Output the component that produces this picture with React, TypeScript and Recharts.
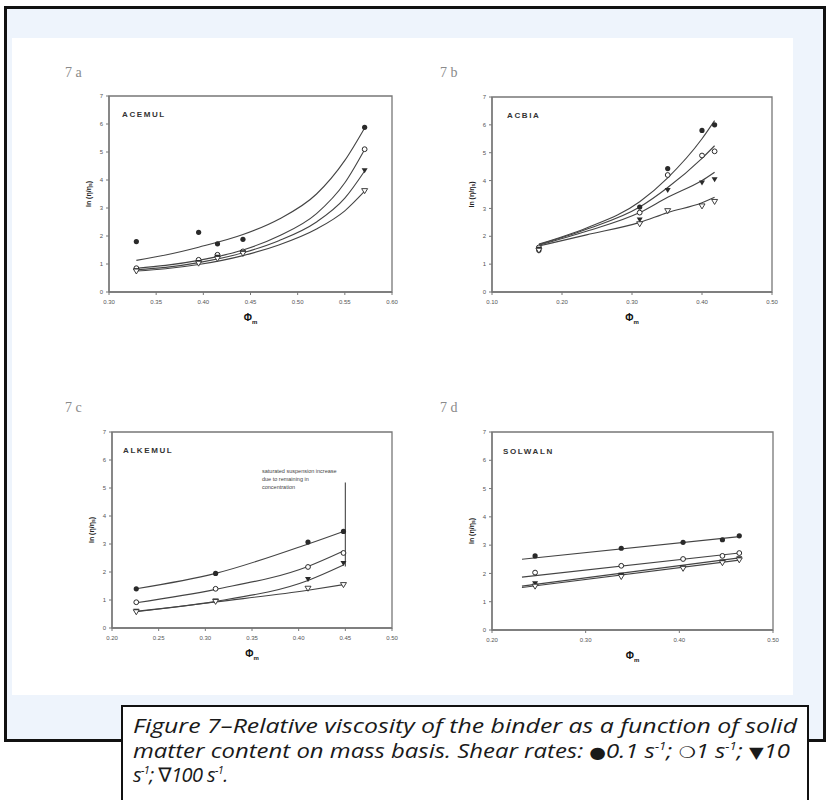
import React from 'react';
import { ComposedChart, Line, Scatter, XAxis, YAxis, ReferenceArea, ReferenceLine, Label } from 'recharts';

// ---------- shared ----------
const Y_TICKS = [0, 1, 2, 3, 4, 5, 6, 7];
const RATE_NAMES = ['0.1 s-1', '1 s-1', '10 s-1', '100 s-1'];

// ---------- 7a ACEMUL ----------
const A_TICKS = [0.3, 0.35, 0.4, 0.45, 0.5, 0.55, 0.6];
const A_X = [0.329, 0.395, 0.415, 0.442, 0.571];
const A_R01 = [1.8, 2.13, 1.72, 1.88, 5.88];
const A_R1 = [0.85, 1.15, 1.33, 1.45, 5.1];
const A_R10 = [0.78, 1.07, 1.26, 1.42, 4.35];
const A_R100 = [0.75, 1.03, 1.2, 1.38, 3.62];
const A_FX = [0.329, 0.36, 0.395, 0.442, 0.48, 0.52, 0.55, 0.571];
const A_F1 = [1.13, 1.32, 1.6, 2.05, 2.6, 3.5, 4.7, 5.86];
const A_F2 = [0.85, 0.95, 1.13, 1.5, 2.0, 2.8, 3.9, 5.09];
const A_F3 = [0.8, 0.88, 1.05, 1.4, 1.83, 2.5, 3.35, 4.32];
const A_F4 = [0.75, 0.83, 0.98, 1.3, 1.68, 2.25, 2.9, 3.6];

// ---------- 7b ACBIA ----------
const B_TICKS = [0.1, 0.2, 0.3, 0.4, 0.5];
const B_X = [0.167, 0.311, 0.351, 0.4, 0.418];
const B_R01 = [1.5, 3.05, 4.43, 5.8, 6.0];
const B_R1 = [1.6, 2.85, 4.2, 4.9, 5.05];
const B_R10 = [1.55, 2.6, 3.66, 3.93, 4.05];
const B_R100 = [1.5, 2.45, 2.92, 3.09, 3.25];
const B_FX = [0.167, 0.235, 0.311, 0.351, 0.4, 0.418];
const B_F1 = [1.72, 2.3, 3.24, 4.1, 5.5, 6.15];
const B_F2 = [1.7, 2.25, 3.05, 3.75, 4.8, 5.25];
const B_F3 = [1.68, 2.18, 2.85, 3.4, 4.0, 4.3];
const B_F4 = [1.65, 2.05, 2.5, 2.85, 3.2, 3.4];

// ---------- 7c ALKEMUL ----------
const C_TICKS = [0.2, 0.25, 0.3, 0.35, 0.4, 0.45, 0.5];
const C_X = [0.226, 0.311, 0.41, 0.448];
const C_R01 = [1.4, 1.95, 3.07, 3.45];
const C_R1 = [0.92, 1.4, 2.18, 2.68];
const C_R10 = [0.62, 0.98, 1.75, 2.32];
const C_R100 = [0.58, 0.95, 1.42, 1.55];
const C_FX = [0.226, 0.311, 0.41, 0.448];
const C_F1 = [1.4, 1.95, 3.0, 3.45];
const C_F2 = [0.9, 1.38, 2.2, 2.75];
const C_F3 = [0.6, 0.95, 1.7, 2.25];
const C_F4 = [0.58, 0.93, 1.35, 1.55];
const C_ASYMPTOTE_X = 0.45;
const C_ASYMPTOTE_Y = [2.2, 5.2];
const C_NOTE = ['saturated suspension increase', 'due to remaining in', 'concentration'];

// ---------- 7d SOLWALN ----------
const D_TICKS = [0.2, 0.3, 0.4, 0.5];
const D_X = [0.246, 0.338, 0.404, 0.446, 0.464];
const D_R01 = [2.62, 2.89, 3.1, 3.19, 3.33];
const D_R1 = [2.03, 2.27, 2.51, 2.62, 2.72];
const D_R10 = [1.65, 1.95, 2.21, 2.42, 2.54];
const D_R100 = [1.55, 1.89, 2.18, 2.38, 2.48];
const D_FX = [0.232, 0.464];
const D_F1 = [2.5, 3.3];
const D_F2 = [1.87, 2.72];
const D_F3 = [1.55, 2.55];
const D_F4 = [1.5, 2.47];

const zip = (xs: number[], ys: number[]) => ys.map((y, i) => ({ x: xs[i], y }));

const INK = '#2a2a2a';
const TICK_FONT = "'Liberation Sans', Arial, sans-serif";

const FilledCircle = (p: any) => <circle cx={p.cx} cy={p.cy} r={2.6} fill={INK} />;
const OpenCircle = (p: any) => <circle cx={p.cx} cy={p.cy} r={2.4} fill="#fff" stroke={INK} strokeWidth={1} />;
const FilledTri = (p: any) => (
  <path d={`M${p.cx - 3},${p.cy - 2} L${p.cx + 3},${p.cy - 2} L${p.cx},${p.cy + 3} Z`} fill={INK} />
);
const OpenTri = (p: any) => (
  <path d={`M${p.cx - 3},${p.cy - 2} L${p.cx + 3},${p.cy - 2} L${p.cx},${p.cy + 3} Z`} fill="#fff" stroke={INK} strokeWidth={0.9} />
);
const SHAPES = [FilledCircle, OpenCircle, FilledTri, OpenTri];

const YLabelContent = (props: any) => {
  const vb = props.viewBox || { x: 0, y: 0, width: 0, height: 0 };
  const x = vb.x + vb.width - 21;
  const y = vb.y + vb.height / 2;
  return (
    <text x={x} y={y} transform={`rotate(-90 ${x} ${y})`} textAnchor="middle" dominantBaseline="central"
      fontSize={7} fontWeight="bold" fill="#222" fontFamily={TICK_FONT}>
      ln (η/η<tspan fontSize={5} dy={2}>s</tspan><tspan dy={-2}>)</tspan>
    </text>
  );
};

const XLabelContent = (props: any) => {
  const vb = props.viewBox || { x: 0, y: 0, width: 0, height: 0 };
  const x = vb.x + vb.width / 2;
  const y = vb.y + 29;
  return (
    <text x={x} y={y} textAnchor="middle" fontSize={10} fontWeight="bold" fill="#111" fontFamily={TICK_FONT}>
      Φ<tspan fontSize={6} dy={3}>m</tspan>
    </text>
  );
};

type PanelProps = {
  left: number; top: number;
  margin: { top: number; right: number; bottom: number; left: number };
  ticks: number[];
  markers: number[][];
  xs: number[];
  fx: number[];
  fits: number[][];
  children?: React.ReactNode;
};

const Panel = ({ left, top, margin, ticks, markers, xs, fx, fits, children }: PanelProps) => {
  const domain: [number, number] = [ticks[0], ticks[ticks.length - 1]];
  return (
    <div style={{ position: 'absolute', left, top }}>
      <ComposedChart width={360} height={280} margin={margin}>
        <XAxis type="number" dataKey="x" domain={domain} ticks={ticks} allowDataOverflow
          tickFormatter={(v: number) => v.toFixed(2)} tickSize={3} tickMargin={5} height={30}
          axisLine={{ stroke: '#777', strokeWidth: 1.3 }} tickLine={{ stroke: '#777' }}
          tick={{ fontSize: 6, fill: '#555', fontFamily: TICK_FONT }} interval={0}>
          <Label content={XLabelContent} />
        </XAxis>
        <YAxis type="number" dataKey="y" domain={[0, 7]} ticks={Y_TICKS} allowDataOverflow width={30}
          tickSize={3} tickMargin={3} axisLine={{ stroke: '#777', strokeWidth: 1.3 }} tickLine={{ stroke: '#777' }}
          tick={{ fontSize: 6, fill: '#555', fontFamily: TICK_FONT }} interval={0}>
          <Label content={YLabelContent} />
        </YAxis>
        <ReferenceArea x1={domain[0]} x2={domain[1]} y1={0} y2={7} fill="none" stroke="#777" strokeWidth={1.3} ifOverflow="visible" />
        {fits.map((f, i) => (
          <Line key={'f' + i} data={zip(fx, f)} dataKey="y" type="monotone" stroke="#444" strokeWidth={1.1}
            dot={false} activeDot={false} isAnimationActive={false} />
        ))}
        {children}
        {markers.map((m, i) => (
          <Scatter key={'m' + i} name={RATE_NAMES[i]} data={zip(xs, m)} dataKey="y" shape={SHAPES[i]} isAnimationActive={false} />
        ))}
      </ComposedChart>
    </div>
  );
};

const panelLabelStyle: React.CSSProperties = {
  position: 'absolute', fontFamily: "'Liberation Serif', serif", fontSize: 14, color: '#8a8a8a', lineHeight: '14px',
};
const innerTitleStyle: React.CSSProperties = {
  position: 'absolute', fontFamily: TICK_FONT, fontSize: 8, fontWeight: 'bold', color: '#333', letterSpacing: 1.6, lineHeight: '8px',
};

export default function App() {
  return (
    <div style={{ position: 'absolute', left: 0, top: 0, width: 829, height: 800, background: '#fff', overflow: 'hidden' }}>
      {/* outer frame */}
      <div style={{ position: 'absolute', left: 4, top: 6, width: 822, height: 736, border: '3px solid #111', background: '#EEF4FC', boxSizing: 'border-box' }} />
      {/* white panel */}
      <div style={{ position: 'absolute', left: 12, top: 38, width: 781, height: 657, background: '#fff' }} />

      <div style={{ ...panelLabelStyle, left: 65, top: 66 }}>7 a</div>
      <div style={{ ...panelLabelStyle, left: 440, top: 66 }}>7 b</div>
      <div style={{ ...panelLabelStyle, left: 65, top: 401 }}>7 c</div>
      <div style={{ ...panelLabelStyle, left: 440, top: 401 }}>7 d</div>

      <Panel left={60} top={60} margin={{ top: 36, right: 28, bottom: 18, left: 19 }} ticks={A_TICKS}
        xs={A_X} markers={[A_R01, A_R1, A_R10, A_R100]} fx={A_FX} fits={[A_F1, A_F2, A_F3, A_F4]} />
      <Panel left={440} top={60} margin={{ top: 37, right: 28, bottom: 18, left: 22 }} ticks={B_TICKS}
        xs={B_X} markers={[B_R01, B_R1, B_R10, B_R100]} fx={B_FX} fits={[B_F1, B_F2, B_F3, B_F4]} />
      <Panel left={60} top={395} margin={{ top: 37, right: 28, bottom: 17, left: 22 }} ticks={C_TICKS}
        xs={C_X} markers={[C_R01, C_R1, C_R10, C_R100]} fx={C_FX} fits={[C_F1, C_F2, C_F3, C_F4]}>
        <ReferenceLine segment={[{ x: C_ASYMPTOTE_X, y: C_ASYMPTOTE_Y[0] }, { x: C_ASYMPTOTE_X, y: C_ASYMPTOTE_Y[1] }]}
          stroke="#444" strokeWidth={1.1} ifOverflow="visible" />
      </Panel>
      <Panel left={440} top={395} margin={{ top: 37, right: 27, bottom: 15, left: 22 }} ticks={D_TICKS}
        xs={D_X} markers={[D_R01, D_R1, D_R10, D_R100]} fx={D_FX} fits={[D_F1, D_F2, D_F3, D_F4]} />

      <div style={{ ...innerTitleStyle, left: 122, top: 111 }}>ACEMUL</div>
      <div style={{ ...innerTitleStyle, left: 507, top: 112 }}>ACBIA</div>
      <div style={{ ...innerTitleStyle, left: 123, top: 447 }}>ALKEMUL</div>
      <div style={{ ...innerTitleStyle, left: 503, top: 448 }}>SOLWALN</div>

      <div style={{ position: 'absolute', left: 262, top: 467, fontFamily: TICK_FONT, fontSize: 5.5, lineHeight: '8px', color: '#444', whiteSpace: 'pre' }}>
        {C_NOTE.join('\n')}
      </div>

      {/* caption box */}
      <div style={{ position: 'absolute', left: 121, top: 705, width: 688, height: 110, border: '2.5px solid #111', background: '#fff', boxSizing: 'border-box' }} />
      <svg width={829} height={800} style={{ position: 'absolute', left: 0, top: 0 }}>
        <g fontFamily="'Open Sans', 'DejaVu Sans', sans-serif" fontStyle="italic" fontSize={20} fill="#1a1a1a">
          <text x={133} y={733} textLength={664} lengthAdjust="spacingAndGlyphs">Figure 7–Relative viscosity of the binder as a function of solid</text>
          <text x={133} y={758} textLength={657} lengthAdjust="spacingAndGlyphs">
            matter content on mass basis. Shear rates: <tspan fontSize={16}>●</tspan>0.1 s<tspan fontSize={11} dy={-8}>-1</tspan><tspan dy={8}>; </tspan><tspan fontSize={16}>❍</tspan>1 s<tspan fontSize={11} dy={-8}>-1</tspan><tspan dy={8}>; </tspan><tspan fontSize={16}>▼</tspan>10
          </text>
          <text x={133} y={782} letterSpacing={-0.6}>
            s<tspan fontSize={11} dy={-8}>-1</tspan><tspan dy={8}>; ∇100 s</tspan><tspan fontSize={11} dy={-8}>-1</tspan><tspan dy={8}>.</tspan>
          </text>
        </g>
      </svg>
    </div>
  );
}
